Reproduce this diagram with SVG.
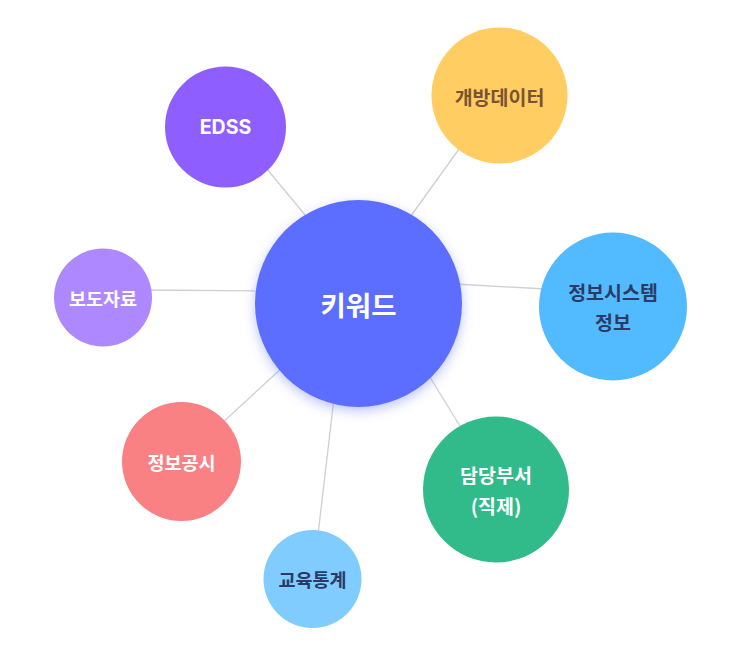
<svg xmlns="http://www.w3.org/2000/svg" width="733" height="656" viewBox="0 0 733 656">
<defs>
<style>
.t{font-family:"Noto Sans CJK KR","Noto Sans",Inter,sans-serif;font-weight:700;text-anchor:middle;dominant-baseline:central}
.s{font-size:18.5px}
.m{font-size:19.5px}
.w{fill:#ffffff}
.n{fill:#2c3a66}
.b{fill:#7a5334}
.c{stroke:#cfcfd4;stroke-width:1.3;fill:none}
</style>
<filter id="sh" x="-30%" y="-30%" width="160%" height="160%">
<feGaussianBlur in="SourceAlpha" stdDeviation="6" result="b"/>
<feOffset in="b" dy="4" result="o"/>
<feFlood flood-color="#5b6eff" flood-opacity="0.4"/>
<feComposite in2="o" operator="in" result="s"/>
<feMerge><feMergeNode in="s"/><feMergeNode in="SourceGraphic"/></feMerge>
</filter>
</defs>
<rect width="733" height="656" fill="#ffffff"/>
<g id="connectors">
<line class="c" x1="262" y1="163" x2="310" y2="221"/>
<line class="c" x1="462" y1="145" x2="408" y2="220"/>
<line class="c" x1="455" y1="284" x2="545" y2="289"/>
<line class="c" x1="428" y1="374" x2="463" y2="431"/>
<line class="c" x1="334" y1="398" x2="318" y2="535"/>
<line class="c" x1="220" y1="425" x2="284" y2="366"/>
<line class="c" x1="145" y1="290" x2="262" y2="291"/>
</g>
<g id="node-edss"><circle cx="225.5" cy="127" r="60.5" fill="#8f5eff"/><text class="t m w" x="225.5" y="127" style="font-family:Inter,'Noto Sans',sans-serif">EDSS</text></g>
<g id="node-open"><circle cx="499.5" cy="95.5" r="68" fill="#ffcd61"/><text class="t m b" x="499.5" y="96">개방데이터</text></g>
<g id="node-sys"><circle cx="613" cy="306.5" r="74" fill="#52baff"/><text class="t m n" x="613" y="291">정보시스템</text><text class="t m n" x="613" y="321">정보</text></g>
<g id="node-dept"><circle cx="496" cy="489.5" r="73" fill="#31ba8a"/><text class="t m w" x="496" y="474">담당부서</text><text class="t m w" x="496" y="505">(직제)</text></g>
<g id="node-edu"><circle cx="312.5" cy="579" r="49" fill="#80ccff"/><text class="t s n" x="312.5" y="579">교육통계</text></g>
<g id="node-disc"><circle cx="181.5" cy="461.5" r="59.5" fill="#f98184"/><text class="t s w" x="181.5" y="462">정보공시</text></g>
<g id="node-press"><circle cx="103" cy="297.5" r="49" fill="#ae88ff"/><text class="t s w" x="103" y="297.5">보도자료</text></g>
<g id="node-keyword"><circle cx="358.5" cy="303.5" r="103.5" fill="#5b6eff" filter="url(#sh)"/><text class="t w" x="358.5" y="304" style="font-size:27.5px">키워드</text></g>
</svg>
